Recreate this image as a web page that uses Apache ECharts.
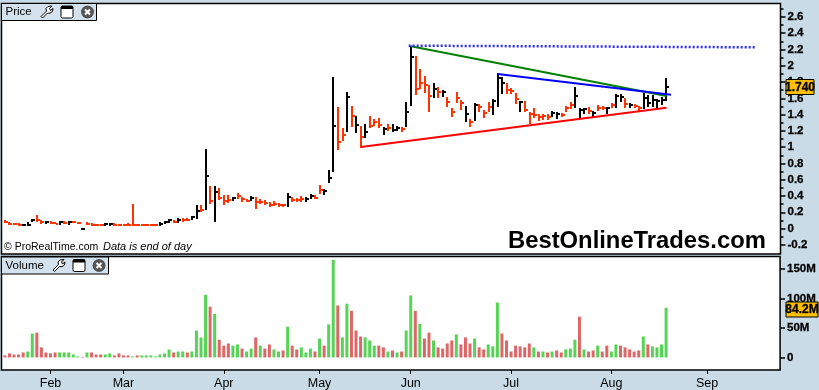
<!DOCTYPE html>
<html>
<head>
<meta charset="utf-8">
<style>html,body{margin:0;padding:0;background:#c9dbe6}#c{width:819px;height:390px}</style>
<script src="https://cdn.jsdelivr.net/npm/echarts@6/dist/echarts.min.js"></script>
</head>
<body>
<div id="c"></div>
<script>
const priceHigh = [
.105,.081,.073,.065,.057,.077,.118,.167,.105,.093,
.089,.085,.093,.093,.093,.093,.081,.007,.077,.065,
.06,.06,.069,.073,.069,.06,.057,.065,.302,.057,
.052,.052,.052,.052,.081,.093,.114,.105,.126,.126,
.126,.154,.29,.29,.978,.523,.523,.499,.413,.413,
.392,.437,.384,.368,.40,.384,.36,.351,.323,.339,
.318,.30,.434,.385,.375,.40,.385,.42,.41,.535,
.483,.72,1.862,1.49,1.24,1.678,1.506,1.383,1.26,1.285,
1.383,1.346,1.358,1.248,1.285,1.285,1.26,1.248,1.555,2.243,
2.12,1.96,1.875,1.764,1.788,1.74,1.70,1.617,1.482,1.678,
1.58,1.506,1.346,1.543,1.53,1.457,1.555,1.588,1.907,1.862,
1.788,1.727,1.666,1.567,1.567,1.432,1.481,1.408,1.408,1.408,
1.445,1.432,1.42,1.506,1.555,1.739,1.481,1.481,1.494,1.445,
1.518,1.506,1.494,1.543,1.653,1.653,1.604,1.543,1.531,1.506,
1.666,1.641,1.641,1.592,1.617,1.85];
const priceLow = [
.073,.048,.044,.032,.032,.036,.077,.085,.06,.06,
.056,.052,.048,.06,.048,.065,.06,-.018,.044,.032,
.032,.032,.032,.036,.036,.032,.032,.032,.036,.032,
.032,.032,.032,.032,.032,.056,.064,.072,.072,.085,
.093,.105,.118,.204,.228,.302,.085,.351,.294,.314,
.339,.363,.327,.327,.339,.24,.298,.286,.269,.278,
.261,.27,.269,.33,.33,.33,.33,.363,.363,.425,
.41,.565,.70,.966,1.076,1.19,1.248,1.178,.994,1.113,
1.24,1.26,1.24,1.15,1.2,1.187,1.2,1.187,1.248,1.506,
1.64,1.71,1.665,1.432,1.6,1.604,1.617,1.494,1.37,1.543,
1.457,1.31,1.248,1.322,1.432,1.359,1.432,1.396,1.494,1.653,
1.653,1.653,1.531,1.432,1.432,1.285,1.359,1.322,1.334,1.334,
1.371,1.346,1.371,1.432,1.469,1.481,1.355,1.408,1.408,1.371,
1.445,1.457,1.408,1.481,1.481,1.555,1.481,1.481,1.481,1.432,
1.469,1.494,1.494,1.481,1.518,1.567];
const priceClose = [
.085,.06,.055,.04,.05,.05,.10,.10,.075,.08,
.07,.06,.08,.07,.08,.08,.07,0,.06,.045,
.04,.04,.055,.06,.05,.045,.04,.045,.05,.045,
.04,.04,.04,.04,.06,.08,.10,.085,.11,.10,
.105,.14,.22,.23,.65,.34,.45,.37,.34,.35,
.38,.40,.36,.34,.38,.33,.33,.32,.29,.30,
.29,.285,.39,.35,.35,.36,.36,.40,.38,.48,
.46,.62,1.26,1.068,1.15,1.617,1.387,1.273,1.13,1.19,
1.26,1.313,1.273,1.224,1.236,1.215,1.236,1.22,1.436,2.11,
1.715,1.785,1.764,1.633,1.72,1.674,1.678,1.551,1.436,1.604,
1.547,1.412,1.31,1.518,1.498,1.42,1.494,1.567,1.854,1.79,
1.70,1.69,1.592,1.555,1.457,1.408,1.396,1.367,1.383,1.375,
1.416,1.408,1.396,1.477,1.522,1.629,1.457,1.465,1.449,1.424,
1.477,1.481,1.477,1.518,1.629,1.621,1.531,1.518,1.506,1.477,
1.60,1.547,1.58,1.571,1.58,1.744];
const priceUp = [
0,0,0,0,1,1,1,0,0,1,
0,0,1,0,1,0,0,1,0,0,
0,0,1,1,0,0,0,0,0,0,
0,0,0,0,1,1,1,0,1,0,
0,1,1,0,1,0,1,0,0,0,
1,0,0,0,1,0,0,0,0,0,
0,0,1,0,0,0,1,1,0,0,
1,1,1,0,0,1,0,1,0,1,
0,0,0,1,0,1,1,0,1,1,
0,0,0,0,1,0,1,0,0,0,
0,1,0,1,0,0,0,1,1,1,
0,0,0,1,0,0,0,0,0,0,
1,1,0,0,0,1,1,1,0,1,
0,0,1,0,1,1,0,1,0,0,
1,1,1,1,1,1];
const volumeM = [
3.4,6.8,5,5,8.4,10,40.5,42,17,8.4,
6.8,8.4,8.4,8.4,8.4,5,1.7,1,8.4,8.4,
5,5,5,6.8,3.4,6.8,3.4,3.4,1.7,3.4,
3.4,3.4,3.4,1.7,5,6.8,13.5,8.4,10,10,
8.4,10,45.6,33.8,106,86,74,30,20,23.6,
20,22,15,10,15,33.8,20,15,22,13.5,
10,11.8,52,20,13.5,17,8.4,15,10,32,
20,56,165.5,88,34,91,79,45.6,35.5,34,
28.7,20,20,17,10,11.8,8.4,10,45.6,105,
79,57,32,42,28.7,17,15,23.6,28.7,39,
22,34,23.6,32,17,13.5,22,18.6,93,40.5,
28.7,10,20,18.6,17,23.6,17,10,10,8.4,
10,11.8,8.4,13.5,15,30,69,13.5,10,11.8,
20,10,20,10,22,20,17,13.5,10,11.8,
35.5,22,18.6,17,22,84.2];
const volumeUp = [
0,0,0,0,0,1,1,0,0,0,
0,0,1,1,1,1,1,0,1,0,
0,0,1,1,0,0,0,0,1,0,
1,1,1,1,1,1,1,0,1,1,
0,1,1,1,1,0,1,0,0,0,
1,1,0,1,1,0,1,0,0,1,
1,0,1,0,0,1,1,1,0,1,
0,1,1,0,1,1,0,0,0,1,
1,1,0,0,1,0,1,0,1,1,
0,1,0,0,1,0,0,0,0,1,
0,0,0,1,0,0,1,1,1,0,
0,0,0,0,0,0,1,0,1,0,
1,0,0,1,1,1,0,1,0,0,
1,0,0,1,1,0,0,0,0,0,
1,0,1,1,1,1];
const monthIdx = [10,26,48,69,89,111,133,154];
const monthNames = ['Feb','Mar','Apr','May','Jun','Jul','Aug','Sep'];
const priceTicks = [-0.2,0,0.2,0.4,0.6,0.8,1,1.2,1.4,1.6,1.8,2,2.2,2.4,2.6];
const priceMinorTicks = [-0.1,0.1,0.3,0.5,0.7,0.9,1.1,1.3,1.5,1.7,1.9,2.1,2.3,2.5,2.7];
const volumeTicks = [0,50,100,150];
const redLine = [[78,1.003],[145,1.485]];
const greenLine = [[89,2.24],[145,1.63]];
const blueLine = [[108,1.9],[146,1.645]];
const dottedLine = [[88.5,2.247],[164.4,2.227]];

const AXIS_FONT = 'Liberation Sans';
const chart = echarts.init(document.getElementById('c'), null, {renderer:'canvas'});
const ohlc = priceHigh.map((h,i)=>[i,priceLow[i],h,priceClose[i],priceUp[i]]);
const vol = volumeM.map((v,i)=>({value:[i,v],itemStyle:{color:volumeUp[i]?'#55d455':'#de6666'}}));

function renderBar(params, api){
  const i = api.value(0);
  const hi = api.coord([i, api.value(2)]);
  const lo = api.coord([i, api.value(1)]);
  const cl = api.coord([i, api.value(3)]);
  const color = api.value(4) ? '#000000' : '#ff3300';
  const x = Math.round(hi[0]) - 1;
  const yT = Math.round(hi[1]);
  const h = Math.max(2, Math.round(lo[1]) - yT);
  return {type:'group', children:[
    {type:'rect', shape:{x:x, y:yT, width:2, height:h}, style:{fill:color}},
    {type:'rect', shape:{x:x+2, y:Math.round(cl[1])-1, width:2, height:2}, style:{fill:color}}
  ]};
}
function lineSeries(data,color,extra){
  return Object.assign({type:'line',xAxisIndex:0,yAxisIndex:0,data:data,symbol:'none',silent:true,z:5,
    lineStyle:{color:color,width:2}},extra||{});
}
const wrenchShape = [[-4.5,6],[-6,4.5],[-0.5,-1],[-1,-3.5],[1,-5.5],[5,-6],[2.5,-3.5],[3.5,-1.5],[6,-3.5],[5.5,-0.5],[3,1.2],[0.5,1]];
function header(x,y,w,h,label,ix){
  const cy = y + h/2;
  return [
    {type:'rect',z:50,shape:{x:x,y:y,width:w,height:h},style:{fill:'#d3e2ec',stroke:'#000',lineWidth:1}},
    {type:'text',z:51,x:x+4,y:cy,style:{text:label,font:'11.5px "Liberation Sans"',fill:'#000',textVerticalAlign:'middle'}},
    {type:'polygon',z:51,x:ix[0],y:cy,shape:{points:wrenchShape},style:{fill:'#fff',stroke:'#000',lineWidth:1}},
    {type:'rect',z:51,shape:{x:ix[1]-6,y:cy-6,width:12,height:12,r:1.5},style:{fill:'#fff',stroke:'#000',lineWidth:1}},
    {type:'rect',z:52,shape:{x:ix[1]-6,y:cy-6,width:12,height:3},style:{fill:'#000'}},
    {type:'circle',z:51,shape:{cx:ix[2],cy:cy,r:6.5},style:{fill:'#555'}},
    {type:'line',z:52,shape:{x1:ix[2]-2.5,y1:cy-2.5,x2:ix[2]+2.5,y2:cy+2.5},style:{stroke:'#fff',lineWidth:2}},
    {type:'line',z:52,shape:{x1:ix[2]-2.5,y1:cy+2.5,x2:ix[2]+2.5,y2:cy-2.5},style:{stroke:'#fff',lineWidth:2}}
  ];
}
function tag(x,y,w,h,text){
  return [
    {type:'rect',z:60,shape:{x:x,y:y,width:w,height:h},style:{fill:'#ffc000',stroke:'#000',lineWidth:1}},
    {type:'text',z:61,x:x+w/2,y:y+h/2+0.5,style:{text:text,font:'bold 12px "Liberation Sans"',fill:'#000',textAlign:'center',textVerticalAlign:'middle',stroke:'#000',lineWidth:0.3}}
  ];
}
const grids = [
  {left:1.5,right:819-780.5,top:3.5,height:250.5,show:true,backgroundColor:'#fff',borderColor:'#000',borderWidth:1.5},
  {left:1.5,right:819-780.5,top:256.5,height:114.5,show:true,backgroundColor:'#fff',borderColor:'#000',borderWidth:1.5}
];
const xBase = {type:'value',min:-0.75,max:170,splitLine:{show:false},axisLine:{show:false,onZero:false}};
const yBase = {type:'value',position:'right',splitLine:{show:false},axisLine:{show:false,onZero:false}};
const tickLabelBase = {show:true,margin:7,color:'#000',fontFamily:AXIS_FONT,fontWeight:'bold',fontSize:11.5,
  padding:[2,0,0,0],textBorderColor:'#000',textBorderWidth:0.3};
const priceMin = -0.312, priceMax = 2.765;
chart.setOption({
  animation:false,
  backgroundColor:'#c9dbe6',
  grid:grids,
  xAxis:[
    Object.assign({},xBase,{gridIndex:0,axisTick:{show:false},axisLabel:{show:false}}),
    Object.assign({},xBase,{gridIndex:1,
      axisTick:{show:true,length:4,lineStyle:{color:'#000',width:1},customValues:monthIdx},
      axisLabel:{show:true,customValues:monthIdx,margin:7,color:'#000',fontFamily:AXIS_FONT,fontSize:12.5,
        formatter:v=>monthNames[monthIdx.indexOf(v)]}})
  ],
  yAxis:[
    Object.assign({},yBase,{gridIndex:0,min:priceMin,max:priceMax,
      axisTick:{show:true,length:5,lineStyle:{color:'#000',width:1.5},customValues:priceTicks},
      axisLabel:Object.assign({},tickLabelBase,{customValues:priceTicks,
        formatter:v=>String(Math.round(v*10)/10)})}),
    Object.assign({},yBase,{gridIndex:0,min:priceMin,max:priceMax,
      axisTick:{show:true,length:3,lineStyle:{color:'#000',width:1.5},customValues:priceMinorTicks},
      axisLabel:{show:false}}),
    Object.assign({},yBase,{gridIndex:1,min:-21.3,max:171,
      axisTick:{show:true,length:5,lineStyle:{color:'#000',width:1.5},customValues:volumeTicks},
      axisLabel:Object.assign({},tickLabelBase,{customValues:volumeTicks,
        formatter:v=>v===0?'0':v+'M'})})
  ],
  series:[
    {type:'custom',xAxisIndex:0,yAxisIndex:0,data:ohlc,renderItem:renderBar,clip:false,silent:true,z:3,
      encode:{x:0,y:[1,2,3]}},
    {type:'line',xAxisIndex:0,yAxisIndex:1,data:[],silent:true},
    lineSeries(redLine,'#ff0000'),
    lineSeries(greenLine,'#008000'),
    lineSeries(blueLine,'#0000ff'),
    lineSeries(dottedLine,'#2a2aff',{lineStyle:{color:'#2a2aff',width:2.5,type:[2,2]}}),
    {type:'bar',xAxisIndex:1,yAxisIndex:2,data:vol,barWidth:3,silent:true}
  ],
  graphic:{elements:[].concat(
    header(1.5,3.5,95,17,'Price',[47,67,87.5]),
    header(1.5,257,107,17,'Volume',[59,79,99]),
    tag(786,79.5,28,15,'1.740'),
    tag(786,302,32,15,'84.2M'),
    [
      {type:'text',z:40,x:4,y:247,style:{text:'\u00a9 ProRealTime.com',font:'10.5px "Liberation Sans"',fill:'#000',textVerticalAlign:'middle'}},
      {type:'text',z:40,x:103,y:247,style:{text:'Data is end of day',font:'italic 11px "Liberation Sans"',fill:'#000',textVerticalAlign:'middle'}},
      {type:'text',z:40,x:508,y:241.5,style:{text:'BestOnlineTrades.com',font:'bold 23.8px "Liberation Sans"',fill:'#000',textVerticalAlign:'middle'}}
    ]
  )}
});
</script>
</body>
</html>
